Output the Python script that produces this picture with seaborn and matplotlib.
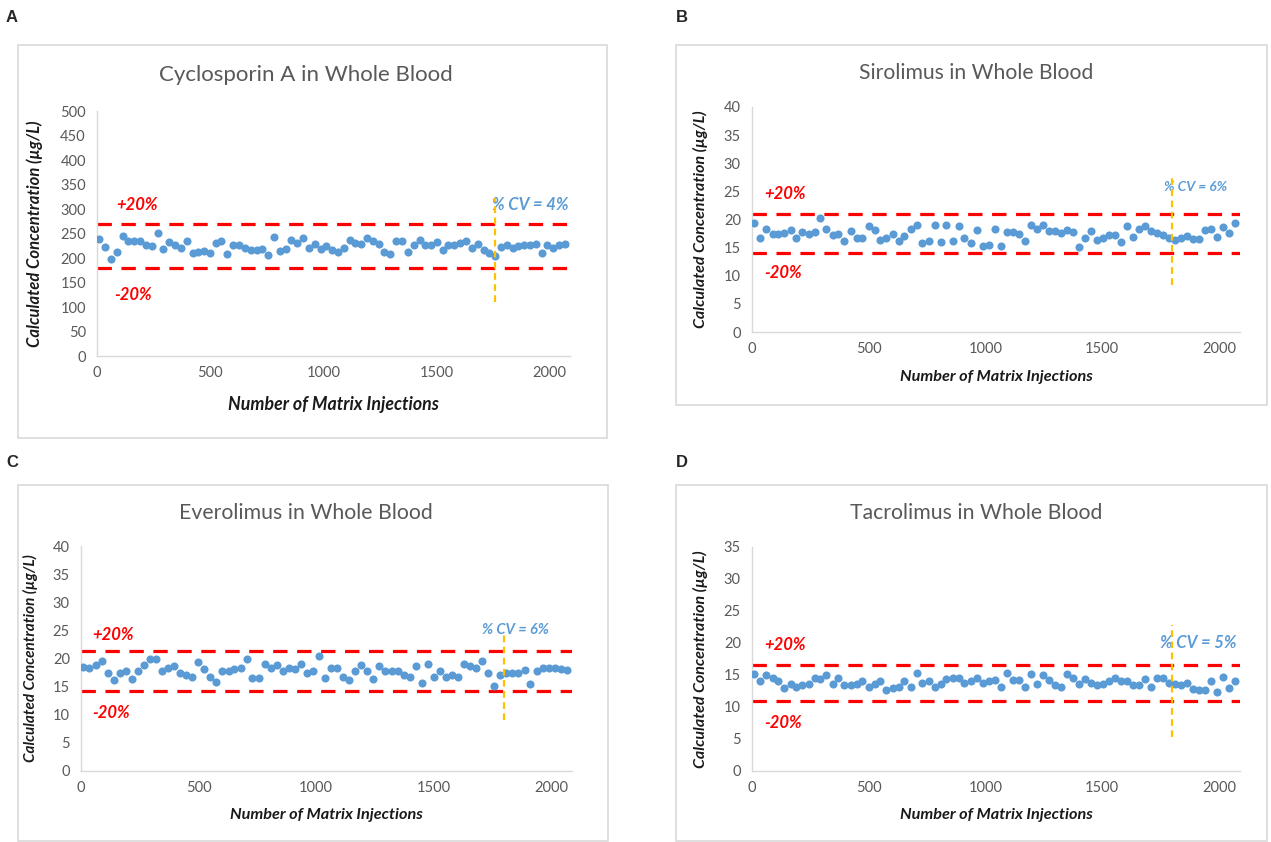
import matplotlib
matplotlib.use("Agg")

import pandas as pd

import matplotlib.pyplot as plt

import seaborn as sns

from matplotlib.patches import Rectangle


# Injection counts (x) shared by all four panels
injections = [
    10, 36, 62, 88, 113, 139, 165, 190, 216, 242, 268, 293, 319, 345, 370, 396,
    422, 448, 473, 499, 525, 550, 576, 602, 628, 653, 679, 705, 730, 756, 782,
    808, 833, 859, 885, 910, 936, 962, 988, 1013, 1039, 1065, 1090, 1116, 1142,
    1168, 1193, 1219, 1245, 1270, 1296, 1322, 1348, 1373, 1399, 1425, 1450,
    1476, 1502, 1528, 1553, 1579, 1605, 1630, 1656, 1682, 1708, 1733, 1759,
    1785, 1810, 1836, 1862, 1888, 1913, 1939, 1965, 1990, 2016, 2042, 2068,
]

# Calculated concentrations
cyclosporin = [
    238, 223, 198, 213, 245, 235, 235, 235, 226, 224, 252, 218, 233, 226, 221,
    235, 211, 213, 215, 211, 230, 235, 209, 226, 226, 221, 216, 216, 218, 206,
    243, 215, 218, 236, 230, 240, 221, 228, 219, 224,
    216, 213, 221, 236, 231, 228, 240, 235, 228, 213, 209, 235, 235, 213, 226,
    236, 227, 227, 233, 216, 226, 226, 231, 235, 221, 228, 216, 211, 204, 223,
    226, 221, 224, 226, 227, 228, 211, 227, 221, 226, 228,
]

sirolimus = [
    19.3, 16.8, 18.4, 17.4, 17.4, 17.6, 18.1, 16.7, 17.8, 17.5, 17.8, 20.3,
    18.3, 17.2, 17.4, 16.2, 18.0, 16.8, 16.8, 18.8, 18.1, 16.4, 16.7, 17.5,
    16.2, 17.1, 18.3, 19.1, 15.8, 16.2, 19.0, 16.0, 19.0, 16.2, 18.8, 16.8,
    15.9, 18.1, 15.3,
    15.5, 18.4, 15.3, 17.8, 17.8, 17.4, 16.2, 19.0, 18.4, 19.0, 18.0, 18.0,
    17.6, 18.1, 17.8, 15.2, 16.7, 18.0, 16.4, 16.8, 17.2, 17.2, 16.0, 18.8,
    16.9, 18.3, 18.8, 18.0, 17.6, 17.2, 16.7, 16.4, 16.8, 17.1, 16.5, 16.5,
    18.1, 18.4, 16.9, 18.7, 17.6, 19.3,
]

everolimus = [
    18.5, 18.4, 18.9, 19.6, 17.4, 16.1, 17.5, 17.8, 16.3, 17.8, 18.8, 20.0,
    19.9, 17.7, 18.3, 18.7, 17.5, 17.1, 16.7, 19.4, 18.1, 16.8, 15.9, 17.8,
    17.8, 18.1, 18.3, 19.9, 16.5, 16.5, 19.0, 18.3, 18.8, 17.7, 18.4, 18.1,
    19.0, 17.4, 17.7,
    20.4, 16.5, 18.3, 18.4, 16.8, 16.2, 17.7, 18.8, 17.8, 16.3, 18.7, 17.7,
    17.7, 17.7, 17.1, 16.8, 18.7, 15.7, 19.0, 16.8, 17.8, 16.7, 17.1, 16.7,
    19.0, 18.7, 18.3, 19.6, 17.4, 15.1, 17.0, 17.5, 17.5, 17.5, 17.9, 15.5,
    17.8, 18.3, 18.3, 18.3, 18.1, 18.0,
]

tacrolimus = [
    15.2, 14.0, 15.0, 14.5, 14.1, 12.9, 13.6, 13.1, 13.4, 13.6, 14.5, 14.3,
    15.0, 13.6, 14.6, 13.4, 13.4, 13.6, 14.1, 13.2, 13.6, 14.1, 12.6, 12.9,
    13.2, 14.1, 13.1, 15.3, 13.7, 14.0, 13.2, 13.6, 14.3, 14.6, 14.5, 13.7,
    14.1, 14.6, 13.7,
    14.1, 14.2, 13.2, 15.3, 14.2, 14.2, 13.2, 15.2, 13.6, 15.0, 14.2, 13.4,
    13.1, 15.2, 14.5, 13.6, 14.3, 13.8, 13.4, 13.6, 14.1, 14.6, 14.1, 14.0,
    13.4, 13.4, 14.3, 13.2, 14.5, 14.5, 13.7, 13.6, 13.4, 13.7, 12.8, 12.6,
    12.6, 14.1, 12.4, 14.7, 12.9, 14.1,
]

titles = ["Cyclosporin A in Whole Blood", "Sirolimus in Whole Blood",
          "Everolimus in Whole Blood", "Tacrolimus in Whole Blood"]
cv_labels = ["% CV = 4%", "% CV = 6%", "% CV = 6%", "% CV = 5%"]
limits_upper = [270, 21.0, 21.3, 16.5]
limits_lower = [180, 14.0, 14.2, 11.0]
letters = ["A", "B", "C", "D"]

sns.set_style("white")
plt.rcParams["font.family"] = ["Lato", "DejaVu Sans"]

W, H = 1271, 842
fig = plt.figure(figsize=(12.71, 8.42), dpi=100)


def px_box(x0, y0, x1, y1):
    # pixel box (top-left origin) -> figure fraction [l, b, w, h]
    return [x0 / W, 1 - y1 / H, (x1 - x0) / W, (y1 - y0) / H]


# panel frames and letters
frames = [(18, 45, 607, 438), (676, 45, 1267, 405),
          (18, 485, 608, 841), (676, 485, 1267, 841)]
letter_pos = [(6, 18), (676, 18), (6, 462), (676, 462)]
for (x0, y0, x1, y1), (lx, ly), letter in zip(frames, letter_pos, letters):
    l, b, w, h = px_box(x0, y0, x1, y1)
    fig.patches.append(Rectangle((l, b), w, h, transform=fig.transFigure,
                                 fill=False, edgecolor="#d9d9d9", lw=1.2))
    fig.text(lx / W, 1 - ly / H, letter, fontsize=12, fontweight="bold",
             family="Liberation Sans", va="center", ha="left")

plot_boxes = [(97, 111, 570, 356), (752, 107, 1240, 332),
              (81, 546, 572, 771), (752, 547, 1240, 771)]
ymax = [500, 40, 40, 35]
ystep = [50, 5, 5, 5]
series = [cyclosporin, sirolimus, everolimus, tacrolimus]
title_y = [75, 73, 513, 513]
title_x = [306, 976, 306, 976]
title_size = [16, 15.2, 15.3, 15.3]
ylabel_x = [35, 700, 30, 700]
ylabel_size = [12, 11.5, 11, 11.5]
xlabel_y = [405, 377, 815, 815]
xlabel_size = [12.8, 11.7, 11.7, 11.7]
cv_size = [12, 10, 10.5, 12]
plus_pos = [(176, 308), (142, 24.5), (136, 24.2), (142, 19.7)]
minus_pos = [(159, 124), (133, 10.5), (128, 10.3), (133, 7.5)]
cv_pos = [(1915, 308), (1900, 25.8), (1851, 25.1), (1910, 20.0)]
orange_x = [1760, 1800, 1800, 1800]
orange_span = [(110, 322), (8.4, 28.0), (9.1, 24.2), (5.3, 22.8)]

for i in range(4):
    ax = fig.add_axes(px_box(*plot_boxes[i]))
    values = series[i]
    df = pd.DataFrame({"injection": injections[:len(values)],
                       "concentration": values})

    sns.scatterplot(data=df, x="injection", y="concentration", ax=ax,
                    color="#5b9bd5", s=34, linewidth=0, zorder=3)

    ax.axhline(limits_upper[i], color="#ff0000", lw=2.3,
               dashes=(4.5, 3), zorder=2)
    ax.axhline(limits_lower[i], color="#ff0000", lw=2.3,
               dashes=(4.5, 3), zorder=2)
    ax.vlines(orange_x[i], orange_span[i][0], orange_span[i][1],
              color="#ffc000", lw=1.6, linestyles=(0, (3, 2)), zorder=4)

    ax.text(*plus_pos[i], "+20%", color="#ff0000", fontsize=12,
            fontweight="bold", style="italic", ha="center", va="center")
    ax.text(*minus_pos[i], "-20%", color="#ff0000", fontsize=12,
            fontweight="bold", style="italic", ha="center", va="center")
    ax.text(*cv_pos[i], cv_labels[i], color="#5b9bd5", fontsize=cv_size[i],
            fontweight="bold", style="italic", ha="center", va="center")

    ax.set_xlim(0, 2090)
    ax.set_ylim(0, ymax[i])
    ax.set_xticks([0, 500, 1000, 1500, 2000])
    ax.set_yticks(list(range(0, ymax[i] + 1, ystep[i])))
    ax.tick_params(axis="x", colors="#595959", labelsize=10.5, direction="in",
                   length=4, width=0.8, color="#d9d9d9", pad=7)
    ax.tick_params(axis="y", colors="#595959", labelsize=10.5, length=0,
                   pad=8)
    for side in ["top", "right"]:
        ax.spines[side].set_visible(False)
    for side in ["left", "bottom"]:
        ax.spines[side].set_color("#d9d9d9")
        ax.spines[side].set_linewidth(1)
    ax.set_xlabel("")
    ax.set_ylabel("")

    fig.text(title_x[i] / W, 1 - title_y[i] / H, titles[i], color="#595959",
             fontsize=title_size[i], ha="center", va="center")
    cx = (plot_boxes[i][0] + plot_boxes[i][2]) / 2
    cy = (plot_boxes[i][1] + plot_boxes[i][3]) / 2
    fig.text(ylabel_x[i] / W, 1 - cy / H, "Calculated Concentration (µg/L)",
             rotation=90, fontsize=ylabel_size[i], fontweight="bold",
             style="italic", ha="center", va="center", color="#1a1a1a")
    fig.text(cx / W, 1 - xlabel_y[i] / H, "Number of Matrix Injections",
             fontsize=xlabel_size[i], fontweight="bold", style="italic",
             ha="center", va="center", color="#1a1a1a")

fig.savefig("out.png", dpi=100)
